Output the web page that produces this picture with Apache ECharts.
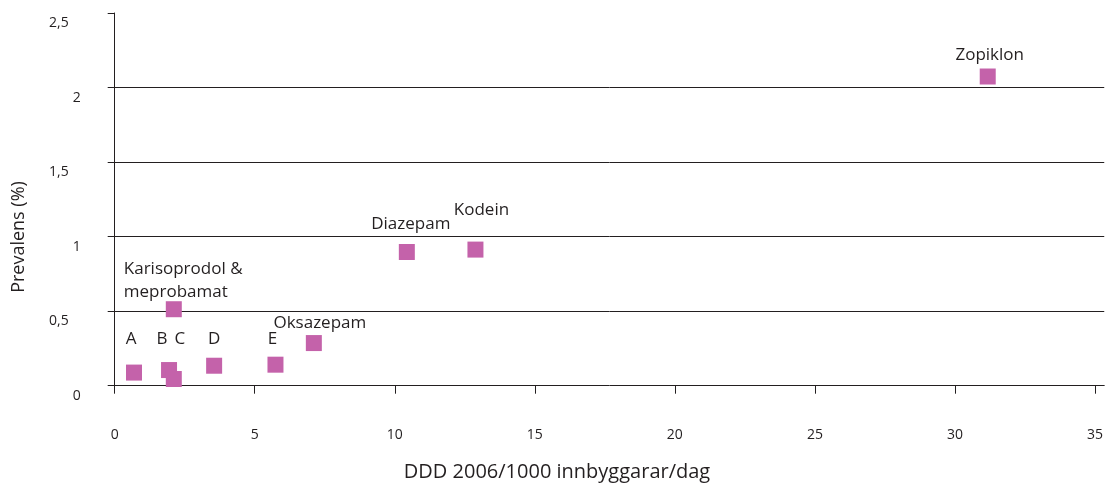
<!DOCTYPE html>
<html>
<head>
<meta charset="utf-8">
<script src="https://cdn.jsdelivr.net/npm/echarts@6/dist/echarts.min.js"></script>
<style>html,body{margin:0;padding:0;background:#fff;}#c{width:1106px;height:489px;}</style>
</head>
<body>
<div id="c"></div>
<script>
var names = ['A', 'B', 'C', 'Karisoprodol &\nmeprobamat', 'D', 'E', 'Oksazepam', 'Diazepam', 'Kodein', 'Zopiklon'];
var dddValues = [0.69, 1.94, 2.11, 2.11, 3.55, 5.74, 7.11, 10.43, 12.88, 31.17];
var prevalence = [0.088, 0.105, 0.045, 0.513, 0.134, 0.141, 0.286, 0.897, 0.913, 2.074];
var xTicks = [0, 5, 10, 15, 20, 25, 30, 35];
var yTicks = ['0', '0,5', '1', '1,5', '2', '2,5'];

// label placement (styling only)
var labelOffsets = {
  'A': [-3, -33], 'B': [-7, -31], 'C': [6, -40], 'D': [0, -27], 'E': [-3, -26],
  'Oksazepam': [6, -20], 'Diazepam': [4, -28], 'Kodein': [6, -39], 'Zopiklon': [2, -21],
  'Karisoprodol &\nmeprobamat': [-50, -29]
};

var font = 'Open Sans';
var ink = '#231f20';
var data = names.map(function (n, i) {
  var lab = { show: true, position: 'inside', offset: labelOffsets[n], formatter: n,
    color: ink, fontSize: 17, fontFamily: font };
  if (n.indexOf('\n') >= 0) { lab.align = 'left'; lab.lineHeight = 23; }
  return { name: n, value: [dddValues[i], prevalence[i]], label: lab };
});

var chart = echarts.init(document.getElementById('c'));
chart.setOption({
  animation: false,
  grid: { left: 114.7, right: 0, top: 13, bottom: 103.3 },
  xAxis: {
    type: 'value', min: 0, max: 35.33, interval: 5,
    axisLine: { show: true, onZero: false, lineStyle: { color: ink, width: 1 } },
    axisTick: { show: true, length: 8, lineStyle: { color: ink } },
    splitLine: { show: false },
    axisLabel: { margin: 42, showMaxLabel: false, color: ink, fontSize: 14, fontFamily: font,
      formatter: function (v) { return xTicks.indexOf(v) >= 0 ? String(v) : ''; } }
  },
  yAxis: {
    type: 'value', min: 0, max: 2.5, interval: 0.5,
    axisLine: { show: true, lineStyle: { color: ink, width: 1 } },
    axisTick: { show: true, length: 7, lineStyle: { color: ink } },
    splitLine: { show: true, showMaxLine: false, showMinLine: false, lineStyle: { color: ink, width: 1 } },
    axisLabel: { margin: 34, color: ink, fontSize: 14, fontFamily: font,
      formatter: function (v) {
        var t = yTicks[Math.round(v / 0.5)];
        return t.indexOf(',') >= 0 ? '{d|' + t + '}' : '{i|' + t + '}';
      },
      rich: {
        d: { fontSize: 14, fontFamily: font, color: ink, padding: [20, 12, 0, 0] },
        i: { fontSize: 14, fontFamily: font, color: ink, padding: [20, 0, 0, 0] }
      }
    }
  },
  graphic: [
    { type: 'text', x: 557, y: 472, style: { text: 'DDD 2006/1000 innbyggarar/dag', fill: ink, font: '20px "Open Sans"', align: 'center', verticalAlign: 'middle' } },
    { type: 'text', x: 19, y: 237, rotation: Math.PI / 2, style: { text: 'Prevalens (%)', fill: ink, font: '18px "Open Sans"', align: 'center', verticalAlign: 'middle' } }
  ],
  series: [{
    type: 'scatter', symbol: 'rect', symbolSize: 16,
    itemStyle: { color: '#c462aa', opacity: 1 },
    data: data
  }]
});
</script>
</body>
</html>
